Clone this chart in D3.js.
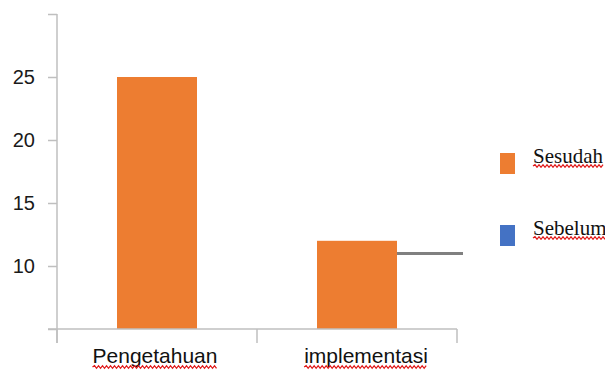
<!DOCTYPE html>
<html><head><meta charset="utf-8">
<script src="https://cdn.jsdelivr.net/npm/d3@7"></script>
<style>body{margin:0;background:#fff}svg{display:block}</style>
</head><body>
<svg id="c" width="605" height="370"></svg>
<script>
const categories = ["Pengetahuan", "implementasi"];
const sesudah = [25, 12];
const sebelumLine = [null, 11];
const yTicks = [5, 10, 15, 20, 25, 30];
const yTickLabels = ["", "10", "15", "20", "25", ""];
const legendLabels = ["Sesudah", "Sebelum"];
const legendColors = ["#ED7D31", "#4472C4"];
const labelShift = [-2, 9];

const svg = d3.select("#c");
const mLeft = 57, mRight = 457, mTop = 14, mBottom = 329;
const x = d3.scaleBand().domain(categories).range([mLeft, mRight]).padding(0);
const y = d3.scaleLinear().domain([5, 30]).range([mBottom, mTop]);
const axisColor = "#BFBFBF";

function wave(g, x0, x1, yy) {
  let d = `M${x0},${yy}`;
  let up = true;
  for (let xx = x0 + 2; xx <= x1; xx += 2) { d += `L${xx},${yy + (up ? -1.3 : 1.3)}`; up = !up; }
  g.append("path").attr("d", d).attr("fill", "none").attr("stroke", "#E01818").attr("stroke-width", 1.3);
}

// bars
const bw = x.bandwidth() * 0.4;
svg.selectAll("rect.bar").data(categories).join("rect")
  .attr("x", d => x(d) + (x.bandwidth() - bw) / 2)
  .attr("y", (d, i) => y(sesudah[i]))
  .attr("width", bw)
  .attr("height", (d, i) => y(5) - y(sesudah[i]))
  .attr("fill", legendColors[0]);

// gray marker line
categories.forEach((c, i) => {
  if (sebelumLine[i] == null) return;
  svg.append("line")
    .attr("x1", x(c) + (x.bandwidth() + bw) / 2).attr("x2", x(c) + x.bandwidth() + 6)
    .attr("y1", y(sebelumLine[i])).attr("y2", y(sebelumLine[i]))
    .attr("stroke", "#808080").attr("stroke-width", 3);
});

// y axis
const yAxis = d3.axisLeft(y).tickValues(yTicks).tickSize(9).tickPadding(13)
  .tickFormat((d, i) => yTickLabels[i]);
const gy = svg.append("g").attr("transform", `translate(${mLeft},0)`).call(yAxis);
gy.select(".domain").remove();
gy.selectAll(".tick line").attr("stroke", axisColor).attr("stroke-width", 1.5);
gy.selectAll(".tick text").attr("fill", "#1a1a1a").style("font-family", "Liberation Sans, Arial, sans-serif").style("font-size", "20px").attr("dy", "0.3em");
svg.append("line").attr("x1", mLeft).attr("x2", mLeft).attr("y1", mTop).attr("y2", mBottom + 14)
  .attr("stroke", axisColor).attr("stroke-width", 1.5);

// x axis
svg.append("line").attr("x1", mLeft - 9).attr("x2", mRight).attr("y1", mBottom).attr("y2", mBottom)
  .attr("stroke", axisColor).attr("stroke-width", 1.5);
const xEdges = categories.map(c => x(c)).concat([mRight]);
svg.selectAll("line.xt").data(xEdges).join("line")
  .attr("x1", d => d).attr("x2", d => d).attr("y1", mBottom).attr("y2", mBottom + 14)
  .attr("stroke", axisColor).attr("stroke-width", 1.5);

const catText = svg.selectAll("text.cat").data(categories).join("text")
  .attr("x", (d, i) => x(d) + x.bandwidth() / 2 + labelShift[i])
  .attr("y", 363)
  .attr("text-anchor", "middle")
  .style("font-family", "Liberation Sans, Arial, sans-serif").style("font-size", "21px")
  .attr("fill", "#111")
  .text(d => d);
catText.each(function() {
  const b = this.getBBox();
  wave(svg, b.x, b.x + b.width, 367);
});

// legend
legendLabels.forEach((l, i) => {
  const yy = 153 + i * 72;
  svg.append("rect").attr("x", 500).attr("y", yy).attr("width", 15).attr("height", 21).attr("fill", legendColors[i]);
  const t = svg.append("text").attr("x", 533).attr("y", yy + 10)
    .style("font-family", "Liberation Serif, Times New Roman, serif").style("font-size", "21px")
    .attr("fill", "#111").text(l);
  const b = t.node().getBBox();
  wave(svg, b.x, b.x + b.width, yy + 13);
});
</script>
</body></html>
